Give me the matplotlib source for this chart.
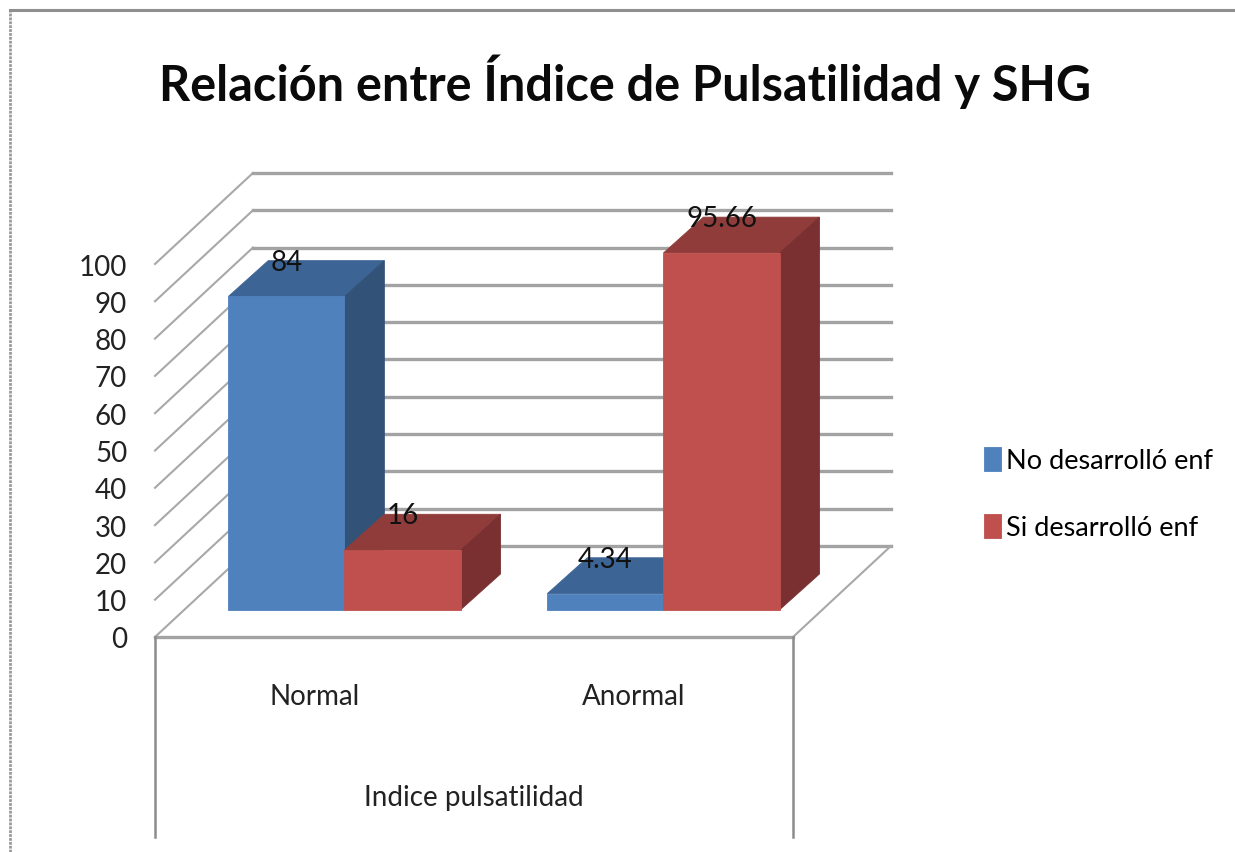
# Relacion entre Indice de Pulsatilidad y SHG - fake 3D column chart
import matplotlib
matplotlib.use('Agg')
from matplotlib import pyplot as plt
from matplotlib.patches import Polygon

# Data
categories = ['Normal', 'Anormal']
series_names = ['No desarrolló enf', 'Si desarrolló enf']
no_desarrollo = [84, 4.34]
si_desarrollo = [16, 95.66]
value_labels = [['84', '4.34'], ['16', '95.66']]
y_ticks = [0, 10, 20, 30, 40, 50, 60, 70, 80, 90, 100]

W, H = 1235, 853
plt.rcParams['font.family'] = ['Lato', 'DejaVu Sans']

fig = plt.figure(figsize=(W / 100, H / 100), dpi=100)
# front plane of the chart box, in pixels of the picture
ax = fig.add_axes([155 / W, (H - 638) / H, 638 / W, 373 / H])
ax.set_xlim(-0.5, 1.5)
ax.set_ylim(0, 100)
ax.patch.set_alpha(0)
for s in ax.spines.values():
    s.set_visible(False)

# depth of the walls and of the bars
wall_dx, wall_dy = 0.307, 24.4
front_dx, front_dy = 0.094, 7.3
bar_w = 0.364
bar_dx, bar_dy = 0.125, 9.6

grid_col = '#a3a3a3'
for v in y_ticks:
    ax.plot([-0.5, -0.5 + wall_dx], [v, v + wall_dy], color='#a8a8a8', lw=1.5, clip_on=False, zorder=1)
    ax.plot([-0.5 + wall_dx, 1.5 + wall_dx], [v + wall_dy, v + wall_dy], color=grid_col, lw=2.4, clip_on=False, zorder=1)
ax.plot([1.5, 1.5 + wall_dx], [0, wall_dy], color='#a8a8a8', lw=1.5, clip_on=False, zorder=1)

# box under the floor
ax.plot([-0.5, 1.5], [0, 0], color=grid_col, lw=2.4, clip_on=False, zorder=1)
ax.plot([-0.5, -0.5], [0, -53.5], color='#8c8c8c', lw=1.8, clip_on=False, zorder=1)
ax.plot([1.5, 1.5], [0, -53.5], color='#8c8c8c', lw=1.8, clip_on=False, zorder=1)

series = [no_desarrollo, si_desarrollo]
colors = ['#4F81BD', '#C0504D']
top_colors = ['#3C6494', '#903C3A']
side_colors = ['#325278', '#7A3030']

legend_handles = []
for i, vals in enumerate(series):
    for j, v in enumerate(vals):
        x0 = j + front_dx + (i - 1) * bar_w
        x1 = x0 + bar_w
        y0 = front_dy
        y1 = front_dy + v
        top = Polygon([(x0, y1), (x1, y1), (x1 + bar_dx, y1 + bar_dy), (x0 + bar_dx, y1 + bar_dy)],
                      facecolor=top_colors[i], edgecolor=top_colors[i], lw=0.6, clip_on=False, zorder=2 + i)
        side = Polygon([(x1, y0), (x1 + bar_dx, y0 + bar_dy), (x1 + bar_dx, y1 + bar_dy), (x1, y1)],
                       facecolor=side_colors[i], edgecolor=side_colors[i], lw=0.6, clip_on=False, zorder=2 + i)
        ax.add_patch(top)
        ax.add_patch(side)
        ax.text((x0 + x1) / 2, y1 + 9.3, value_labels[i][j], ha='center', va='center',
                fontsize=20, color='#111111', clip_on=False, zorder=6)
    bars = ax.bar([j + front_dx - (1 - i) * bar_w + bar_w / 2 for j in range(len(vals))], vals, bar_w,
                  bottom=front_dy, color=colors[i], edgecolor=colors[i], lw=0.6, clip_on=False,
                  zorder=2.5 + i, label=series_names[i])
    legend_handles.append(bars)

# axis text
ax.set_yticks(y_ticks)
ax.set_xticks([0, 1])
ax.set_xticklabels(categories)
ax.tick_params(axis='y', length=0, pad=20, labelsize=20, labelcolor='#222222')
ax.tick_params(axis='x', length=0, pad=33, labelsize=20, labelcolor='#222222')
ax.set_xlabel('Indice pulsatilidad', fontsize=20, color='#222222', labelpad=54)

ax.legend(handles=legend_handles, labels=series_names, loc='upper left', frameon=False,
          bbox_to_anchor=(984 / W, (H - 448) / H), bbox_transform=fig.transFigure,
          fontsize=19.5, handlelength=0.62, handleheight=1.0, handletextpad=0.18,
          labelspacing=1.5, borderaxespad=0, borderpad=0)

fig.text(625 / W, (H - 82) / H, 'Relación entre Índice de Pulsatilidad y SHG', ha='center', va='center',
         fontsize=35, fontweight='bold', color='#0a0a0a')

# outer frame, open at right and bottom
fig.add_artist(plt.Line2D([10 / W, 10 / W], [0, (H - 10) / H], color='#9a9a9a', lw=2, linestyle=(0, (1, 0.4))))
fig.add_artist(plt.Line2D([10 / W, 1], [(H - 11) / H, (H - 11) / H], color='#8f8f8f', lw=2.2))

plt.savefig('out.png', dpi=100)
